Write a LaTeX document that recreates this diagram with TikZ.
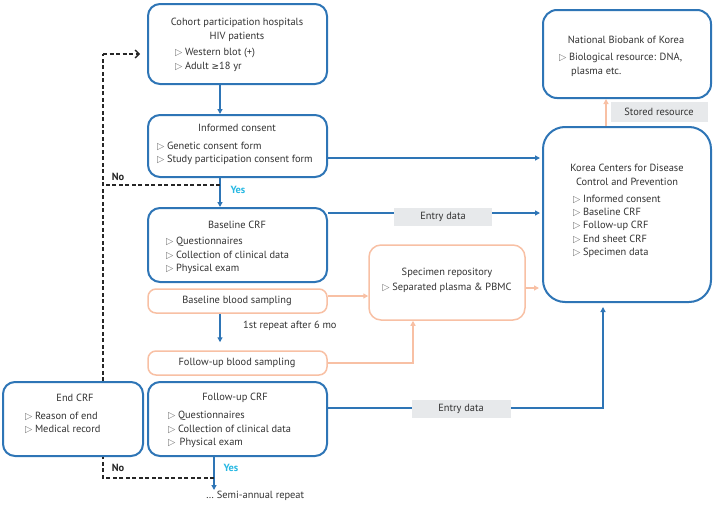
\documentclass[tikz,border=0pt]{standalone}
\usepackage{fontspec}
\setmainfont{PT Sans}
\newfontfamily\symf{DejaVu Sans}
\usetikzlibrary{arrows.meta}
\definecolor{cblue}{RGB}{46,117,182}
\definecolor{corange}{RGB}{248,192,164}
\definecolor{cgray}{RGB}{231,233,235}
\definecolor{ctext}{RGB}{50,50,50}
\definecolor{ccyan}{RGB}{40,184,226}
\definecolor{ctri}{RGB}{120,120,120}
\newcommand{\tri}{{\color{ctri}\symf\fontsize{9.5}{9.5}\selectfont ▷}\hspace{2.5pt}}
\newcommand{\gte}{{\symf\fontsize{9}{9}\selectfont ≥}}
\tikzset{
  bluebox/.style={draw=cblue, line width=2pt, rounded corners=12pt, fill=white, inner sep=0pt},
  orbox/.style={draw=corange, line width=1.5pt, rounded corners=8pt, fill=white, inner sep=0pt},
  txt/.style={text=ctext, font=\fontsize{10.4}{12}\selectfont, inner sep=0pt},
  item/.style={txt, anchor=west},
  lab/.style={fill=cgray, txt, inner sep=0pt},
  barrow/.style={draw=cblue, line width=1.5pt, -{Triangle[length=5pt,width=5pt]}},
  oarrow/.style={draw=corange, line width=1.3pt, -{Triangle[length=5pt,width=5pt]}},
  dline/.style={draw=black!85, line width=1.3pt, dash pattern=on 4pt off 2.5pt},
  yeslab/.style={text=ccyan, font=\fontsize{10.4}{12}\selectfont\bfseries, inner sep=0pt},
  nolab/.style={text=black!85, font=\fontsize{10.4}{12}\selectfont\bfseries, inner sep=0pt},
}
\begin{document}
\begin{tikzpicture}[x=1pt,y=-1pt]
\path[use as bounding box] (0,0) rectangle (717,506);
% coordinates
\coordinate (ax) at (220,0);
\coordinate (bx) at (214,0);
\coordinate (dx) at (103,0);
\coordinate (y1) at (0,158);
\coordinate (y2) at (0,213);
\coordinate (y3) at (0,296);
\coordinate (y4) at (0,363);
\coordinate (y5) at (0,288);
\coordinate (y6) at (0,408);
\coordinate (sx) at (413,0);
\coordinate (kx) at (603,0);
\coordinate (nx) at (606,0);
\coordinate (topd) at (103,54);
\coordinate (midd) at (103,185);
\coordinate (botd) at (103,478);
\coordinate (semi) at (214,490);

% boxes
\node[bluebox, minimum width=179pt, minimum height=80pt] (cohort) at (237.5,44) {};
\node[bluebox, minimum width=179pt, minimum height=62pt] (consent) at (237.5,146) {};
\node[bluebox, minimum width=179pt, minimum height=74pt] (baseline) at (237.5,245) {};
\node[orbox, minimum width=179pt, minimum height=24pt] (bbs) at (237.5,301) {};
\node[orbox, minimum width=179pt, minimum height=24pt] (fbs) at (237.5,363) {};
\node[bluebox, minimum width=140pt, minimum height=74pt] (endcrf) at (73,419) {};
\node[bluebox, minimum width=179pt, minimum height=74pt] (fucrf) at (237.5,419) {};
\node[orbox, rounded corners=12pt, minimum width=156pt, minimum height=75pt] (spec) at (447,282.5) {};
\node[bluebox, rounded corners=22pt, minimum width=168pt, minimum height=175pt] (kcdc) at (627,214.5) {};
\node[bluebox, rounded corners=14pt, minimum width=168pt, minimum height=88pt] (biobank) at (627,54) {};

% texts
\node[txt] (t1) at (237,23) {Cohort participation hospitals};
\node[txt] (t2) at (237,37) {HIV patients};
\node[item] (t3) at (175,53) {\tri Western blot (+)};
\node[item] (t4) at (175,67) {\tri Adult \gte18 yr};

\node[txt] (c1) at (237,128) {Informed consent};
\node[item] (c2) at (157,146.5) {\tri Genetic consent form};
\node[item] (c3) at (157,160) {\tri Study participation consent form};

\node[txt] (b1) at (237,225) {Baseline CRF};
\node[item] (b2) at (166,242) {\tri Questionnaires};
\node[item] (b3) at (166,255.5) {\tri Collection of clinical data};
\node[item] (b4) at (166,269) {\tri Physical exam};

\node[txt] (bb1) at (237,301) {Baseline blood sampling};
\node[txt] (fb1) at (237,363) {Follow-up blood sampling};

\node[txt] (e1) at (75,398) {End CRF};
\node[item] (e2) at (25,416) {\tri Reason of end};
\node[item] (e3) at (25,429.5) {\tri Medical record};

\node[txt] (f1) at (235,398) {Follow-up CRF};
\node[item] (f2) at (168,416) {\tri Questionnaires};
\node[item] (f3) at (168,429.5) {\tri Collection of clinical data};
\node[item] (f4) at (168,443) {\tri\,Physical exam};

\node[txt] (s1) at (447,273) {Specimen repository};
\node[txt] (s2) at (447,288) {\tri Separated plasma \& PBMC};

\node[txt] (k1) at (627,168) {Korea Centers for Disease};
\node[txt] (k2) at (627,182) {Control and Prevention};
\node[item] (k3) at (573,199) {\tri Informed consent};
\node[item] (k4) at (573,212.5) {\tri Baseline CRF};
\node[item] (k5) at (573,226) {\tri Follow-up CRF};
\node[item] (k6) at (573,239.5) {\tri End sheet CRF};
\node[item] (k7) at (573,253) {\tri Specimen data};

\node[txt] (n1) at (626,40) {National Biobank of Korea};
\node[item] (n2) at (559,58) {\tri Biological resource: DNA,};
\node[item] (n3) at (571,72) {plasma etc.};

% blue connectors
\draw[barrow] (cohort.south -| ax) -- (consent.north -| ax);
\draw[barrow] (consent.south -| ax) -- (baseline.north -| ax);
\draw[barrow, shorten >=2pt] (consent.east |- y1) -- (kcdc.west |- y1);
\draw[barrow, shorten >=2pt] (baseline.east |- y2) -- (kcdc.west |- y2);
\node[lab, minimum width=98pt, minimum height=18pt] (ed1) at (443,217) {Entry data};
\draw[barrow, shorten >=8pt] (bbs.south -| ax) -- (fbs.north -| ax);
\node[txt, anchor=west] (rep) at (243,326) {1st repeat after 6 mo};
\draw[barrow, shorten >=4pt] (fucrf.east |- y6) -- (kx |- y6) -- (kcdc.south -| kx);
\node[lab, minimum width=99pt, minimum height=18pt] (ed2) at (461,409) {Entry data};
\draw[barrow] (fucrf.south -| bx) -- (semi);
\node[txt, anchor=north west] (semitxt) at (206,491) {\ldots\ Semi-annual repeat};

% orange connectors
\draw[oarrow] (bbs.east |- y3) -- (spec.west |- y3);
\draw[oarrow] (fbs.east |- y4) -- (sx |- y4) -- (spec.south -| sx);
\draw[oarrow, shorten >=3pt] (spec.east |- y5) -- (kcdc.west |- y5);
\draw[oarrow] (kcdc.north -| nx) -- (biobank.south -| nx);
\node[lab, minimum width=97pt, minimum height=20pt] (sr) at (659,112) {Stored resource};

% dashed connectors
\draw[dline] (endcrf.north -| dx) -- (midd) -- (topd);
\draw[dline, -{Straight Barb[length=4pt,width=8pt,line width=1.3pt]}, shorten >=7pt] (topd) -- (cohort.west |- topd);
\draw[dline] (ax |- midd) -- (midd);
\draw[dline] (bx |- botd) -- (botd) -- (endcrf.south -| dx);

% yes/no
\node[yeslab] (yes1) at (238,190) {Yes};
\node[nolab] (no1) at (118,177) {No};
\node[yeslab] (yes2) at (231,468) {Yes};
\node[nolab] (no2) at (118,468) {No};
\end{tikzpicture}
\end{document}
